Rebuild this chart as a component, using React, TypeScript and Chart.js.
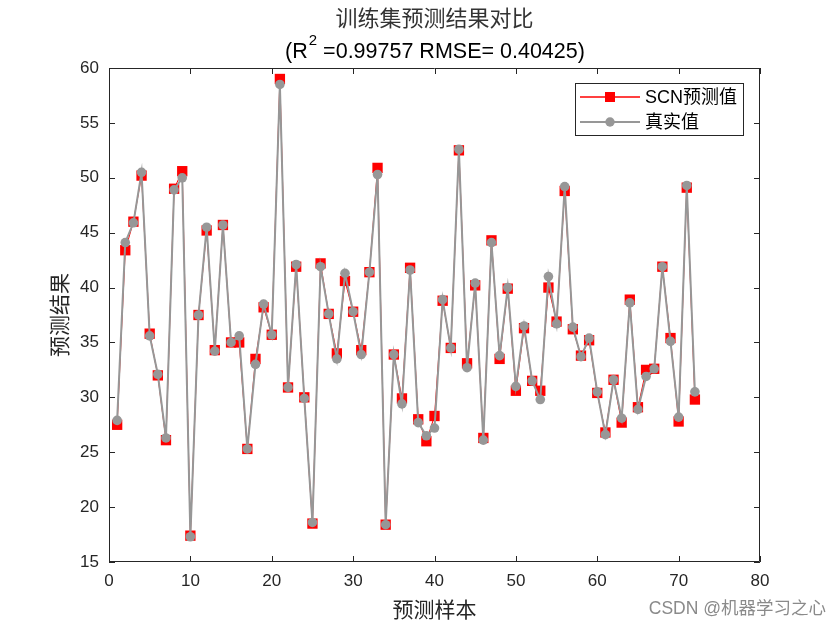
import React, { useEffect, useRef } from "react";
import { Chart, registerables } from "chart.js";

Chart.register(...registerables);

const sampleIndex: number[] = Array.from({ length: 72 }, (_, i) => i + 1);

const predicted: number[] = [
  27.5, 43.4, 46.0, 50.2, 35.8, 32.0, 26.1, 49.0, 50.6, 17.4,
  37.5, 45.2, 34.3, 45.7, 35.0, 35.0, 25.3, 33.5, 38.2, 35.7,
  59.0, 30.9, 41.9, 30.0, 18.5, 42.2, 37.6, 34.0, 40.6, 37.8,
  34.3, 41.4, 50.9, 18.4, 33.9, 29.9, 41.8, 28.0, 26.0, 28.3,
  38.8, 34.5, 52.5, 33.1, 40.2, 26.3, 44.3, 33.5, 39.9, 30.6,
  36.3, 31.5, 30.6, 40.0, 36.9, 48.8, 36.2, 33.8, 35.2, 30.4,
  26.8, 31.6, 27.7, 38.9, 29.1, 32.5, 32.6, 41.9, 35.4, 27.8,
  49.1, 29.8,
];

const actual: number[] = [
  27.9, 44.1, 45.9, 50.5, 35.6, 32.1, 26.3, 48.9, 50.0, 17.3,
  37.5, 45.5, 34.2, 45.7, 35.0, 35.6, 25.3, 33.0, 38.5, 35.7,
  58.5, 30.9, 42.1, 29.9, 18.6, 41.9, 37.6, 33.5, 41.3, 37.8,
  33.9, 41.4, 50.3, 18.4, 33.9, 29.4, 41.6, 27.7, 26.5, 27.2,
  38.9, 34.5, 52.6, 32.7, 40.4, 26.1, 44.1, 33.8, 40.0, 31.0,
  36.5, 31.5, 29.8, 41.0, 36.7, 49.2, 36.4, 33.7, 35.4, 30.5,
  26.6, 31.6, 28.1, 38.6, 28.9, 31.9, 32.6, 41.9, 35.1, 28.2,
  49.3, 30.5,
];

const xTicks: number[] = [0, 10, 20, 30, 40, 50, 60, 70, 80];
const yTicks: number[] = [15, 20, 25, 30, 35, 40, 45, 50, 55, 60];

const titleLine1 = "训练集预测结果对比";
const titleR2 = "0.99757";
const titleRMSE = "0.40425";
const xLabel = "预测样本";
const yLabel = "预测结果";
const legendPred = "SCN预测值";
const legendTrue = "真实值";
const watermark = "CSDN @机器学习之心";

const LATIN = '"Liberation Sans", Arial, sans-serif';
const CJK = '"Liberation Sans", "Noto Sans CJK SC", sans-serif';

const RED = "#FF0000";
const GRAY = "#979797";
const AXIS = "#262626";

const overlay = {
  id: "overlay",
  afterDraw(chart: any) {
    const ctx: CanvasRenderingContext2D = chart.ctx;
    const { left, right, top, bottom } = chart.chartArea;
    const xs = chart.scales.x;
    const ys = chart.scales.y;
    ctx.save();

    // box + inward ticks
    ctx.strokeStyle = AXIS;
    ctx.lineWidth = 1;
    ctx.beginPath();
    ctx.rect(left + 0.5, top + 0.5, right - left - 1, bottom - top - 1);
    ctx.stroke();
    const tl = 6;
    ctx.beginPath();
    xTicks.forEach((v) => {
      const px = Math.round(xs.getPixelForValue(v)) + 0.5;
      ctx.moveTo(px, bottom);
      ctx.lineTo(px, bottom - tl);
      ctx.moveTo(px, top);
      ctx.lineTo(px, top + tl);
    });
    yTicks.forEach((v) => {
      const py = Math.round(ys.getPixelForValue(v)) + 0.5;
      ctx.moveTo(left, py);
      ctx.lineTo(left + tl, py);
      ctx.moveTo(right, py);
      ctx.lineTo(right - tl, py);
    });
    ctx.stroke();

    // titles
    ctx.fillStyle = "#333333";
    ctx.textAlign = "center";
    ctx.textBaseline = "middle";
    ctx.font = `22px ${CJK}`;
    const cx = (left + right) / 2;
    ctx.fillText(titleLine1, cx, 20);

    ctx.fillStyle = "#000000";
    const big = `21.5px ${LATIN}`;
    const small = `15px ${LATIN}`;
    const p1 = "(R";
    const p2 = "2";
    const p3 = ` =${titleR2} RMSE= ${titleRMSE})`;
    ctx.font = big;
    const w1 = ctx.measureText(p1).width;
    const w3 = ctx.measureText(p3).width;
    ctx.font = small;
    const w2 = ctx.measureText(p2).width;
    let sx = cx - (w1 + w2 + w3) / 2;
    ctx.textAlign = "left";
    ctx.font = big;
    ctx.fillText(p1, sx, 52);
    sx += w1;
    ctx.font = small;
    ctx.fillText(p2, sx + 1, 41);
    sx += w2 + 1;
    ctx.font = big;
    ctx.fillText(p3, sx, 52);

    // axis titles
    ctx.fillStyle = "#262626";
    ctx.textAlign = "center";
    ctx.font = `21px ${CJK}`;
    ctx.fillText(xLabel, cx, 611);
    ctx.save();
    ctx.translate(61, (top + bottom) / 2);
    ctx.rotate(-Math.PI / 2);
    ctx.fillText(yLabel, 0, 0);
    ctx.restore();

    // legend
    const lx = 575, ly = 83, lw = 168, lh = 52;
    ctx.fillStyle = "#ffffff";
    ctx.fillRect(lx, ly, lw, lh);
    ctx.strokeStyle = AXIS;
    ctx.lineWidth = 1;
    ctx.strokeRect(lx + 0.5, ly + 0.5, lw, lh);
    const rows = [
      { y: 97, color: RED, lw: 1.5, label: legendPred, marker: "rect" },
      { y: 122, color: GRAY, lw: 2, label: legendTrue, marker: "circle" },
    ];
    rows.forEach((r) => {
      ctx.strokeStyle = r.color;
      ctx.lineWidth = r.lw;
      ctx.beginPath();
      ctx.moveTo(580, r.y);
      ctx.lineTo(640, r.y);
      ctx.stroke();
      ctx.fillStyle = r.color;
      ctx.beginPath();
      if (r.marker === "rect") ctx.rect(605, r.y - 5, 10, 10);
      else ctx.arc(610, r.y, 4.7, 0, Math.PI * 2);
      ctx.fill();
      ctx.fillStyle = "#000000";
      ctx.textAlign = "left";
      ctx.font = `18px ${CJK}`;
      ctx.fillText(r.label, 645, r.y + 1);
    });

    // watermark
    ctx.fillStyle = "#8a8a8a";
    ctx.textAlign = "right";
    ctx.font = `17.5px ${CJK}`;
    ctx.fillText(watermark, 826, 609);

    ctx.restore();
  },
};

export default function App() {
  const ref = useRef<HTMLCanvasElement | null>(null);
  useEffect(() => {
    document.body.style.margin = "0";
    const canvas = ref.current!;
    const chart = new Chart(canvas, {
      type: "line",
      data: {
        datasets: [
          {
            label: legendPred,
            data: sampleIndex.map((x, i) => ({ x, y: predicted[i] })),
            borderColor: RED,
            backgroundColor: RED,
            borderWidth: 1,
            pointStyle: "rect",
            pointRadius: 7.3,
            pointBorderWidth: 0,
            pointBackgroundColor: RED,
            order: 1,
          },
          {
            label: legendTrue,
            data: sampleIndex.map((x, i) => ({ x, y: actual[i] })),
            borderColor: GRAY,
            backgroundColor: GRAY,
            borderWidth: 2,
            pointStyle: "circle",
            pointRadius: 4.8,
            pointBorderWidth: 0,
            pointBackgroundColor: GRAY,
            order: 0,
          },
        ],
      },
      options: {
        animation: false,
        responsive: false,
        devicePixelRatio: 1,
        layout: { padding: { left: 0, right: 80, top: 68, bottom: 0 } },
        plugins: {
          legend: { display: false },
          title: { display: false },
          tooltip: { enabled: false },
        },
        scales: {
          x: {
            type: "linear",
            min: 0,
            max: 80,
            afterBuildTicks: (s: any) => {
              s.ticks = xTicks.map((v) => ({ value: v }));
            },
            afterFit: (s: any) => {
              s.height = 68;
            },
            grid: { display: false, drawTicks: false },
            border: { display: false },
            ticks: {
              padding: 9,
              color: "#262626",
              font: { size: 17, family: LATIN },
              maxRotation: 0,
            },
          },
          y: {
            type: "linear",
            min: 15,
            max: 60,
            afterBuildTicks: (s: any) => {
              s.ticks = yTicks.map((v) => ({ value: v }));
            },
            afterFit: (s: any) => {
              s.width = 109;
            },
            grid: { display: false, drawTicks: false },
            border: { display: false },
            ticks: {
              padding: 10,
              color: "#262626",
              font: { size: 17, family: LATIN },
            },
          },
        },
      },
      plugins: [overlay],
    } as any);
    return () => chart.destroy();
  }, []);
  return (
    <div style={{ position: "absolute", left: 0, top: 0, width: 840, height: 630, background: "#fff" }}>
      <canvas ref={ref} width={840} height={630} style={{ width: 840, height: 630 }} />
    </div>
  );
}
